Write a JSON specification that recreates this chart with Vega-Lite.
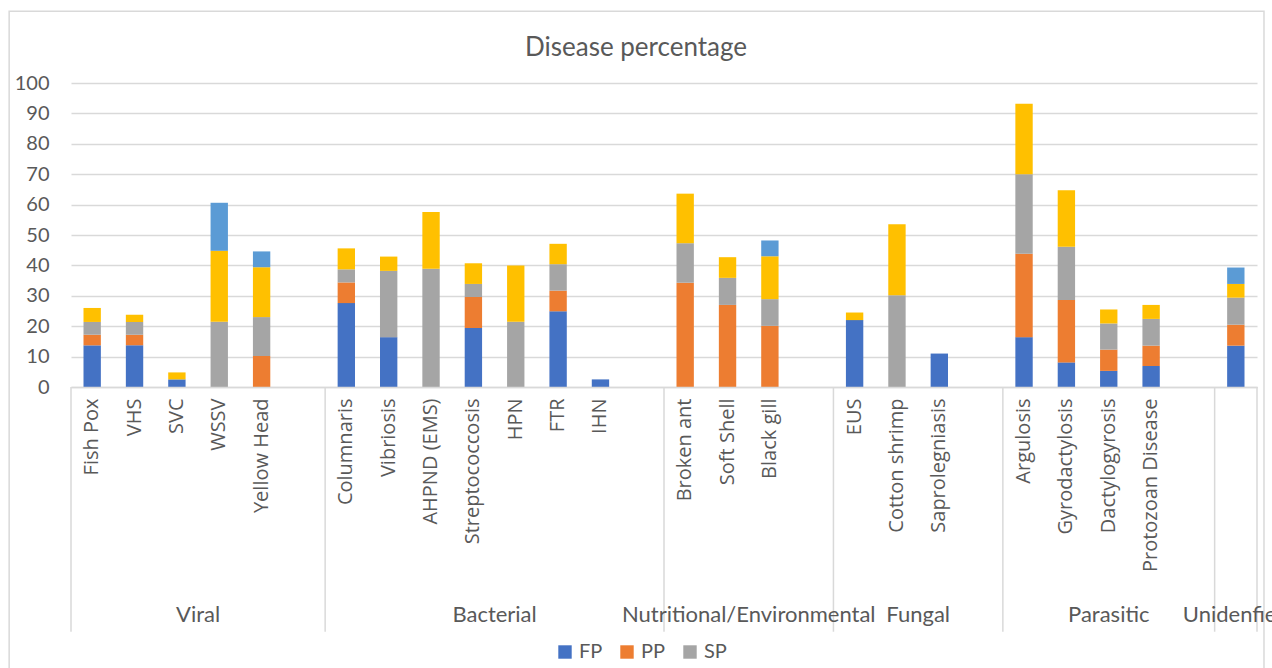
{
  "$schema": "https://vega.github.io/schema/vega-lite/v6.json",
  "autosize": {"type": "none"},
  "padding": {"left": 71, "top": 83, "right": 15, "bottom": 281},
  "width": 1186,
  "height": 304,
  "background": "white",
  "config": {"view": {"stroke": null}},
  "title": {"text": "Disease percentage", "font": "Lato", "fontSize": 26, "fontWeight": "normal", "color": "#595959", "anchor": "middle", "dx": -28, "offset": -50},
  "datasets": {
    "bars": [
      {"disease": "Fish Pox", "series": "FP", "value": 13.7},
      {"disease": "Fish Pox", "series": "PP", "value": 3.5},
      {"disease": "Fish Pox", "series": "SP", "value": 4.2},
      {"disease": "Fish Pox", "series": "Series 4", "value": 4.6},
      {"disease": "VHS", "series": "FP", "value": 13.7},
      {"disease": "VHS", "series": "PP", "value": 3.5},
      {"disease": "VHS", "series": "SP", "value": 4.2},
      {"disease": "VHS", "series": "Series 4", "value": 2.4},
      {"disease": "SVC", "series": "FP", "value": 2.5},
      {"disease": "SVC", "series": "Series 4", "value": 2.3},
      {"disease": "WSSV", "series": "SP", "value": 21.5},
      {"disease": "WSSV", "series": "Series 4", "value": 23.3},
      {"disease": "WSSV", "series": "Series 5", "value": 15.8},
      {"disease": "Yellow Head", "series": "PP", "value": 10.2},
      {"disease": "Yellow Head", "series": "SP", "value": 12.8},
      {"disease": "Yellow Head", "series": "Series 4", "value": 16.4},
      {"disease": "Yellow Head", "series": "Series 5", "value": 5.2},
      {"disease": "Columnaris", "series": "FP", "value": 27.6},
      {"disease": "Columnaris", "series": "PP", "value": 6.8},
      {"disease": "Columnaris", "series": "SP", "value": 4.3},
      {"disease": "Columnaris", "series": "Series 4", "value": 6.9},
      {"disease": "Vibriosis", "series": "FP", "value": 16.4},
      {"disease": "Vibriosis", "series": "SP", "value": 21.8},
      {"disease": "Vibriosis", "series": "Series 4", "value": 4.7},
      {"disease": "AHPND (EMS)", "series": "SP", "value": 38.9},
      {"disease": "AHPND (EMS)", "series": "Series 4", "value": 18.7},
      {"disease": "Streptococcosis", "series": "FP", "value": 19.4},
      {"disease": "Streptococcosis", "series": "PP", "value": 10.2},
      {"disease": "Streptococcosis", "series": "SP", "value": 4.3},
      {"disease": "Streptococcosis", "series": "Series 4", "value": 6.8},
      {"disease": "HPN", "series": "SP", "value": 21.5},
      {"disease": "HPN", "series": "Series 4", "value": 18.5},
      {"disease": "FTR", "series": "FP", "value": 24.9},
      {"disease": "FTR", "series": "PP", "value": 6.8},
      {"disease": "FTR", "series": "SP", "value": 8.7},
      {"disease": "FTR", "series": "Series 4", "value": 6.7},
      {"disease": "IHN", "series": "FP", "value": 2.5},
      {"disease": "Broken ant", "series": "PP", "value": 34.3},
      {"disease": "Broken ant", "series": "SP", "value": 13.0},
      {"disease": "Broken ant", "series": "Series 4", "value": 16.3},
      {"disease": "Soft Shell", "series": "PP", "value": 27.0},
      {"disease": "Soft Shell", "series": "SP", "value": 8.9},
      {"disease": "Soft Shell", "series": "Series 4", "value": 6.8},
      {"disease": "Black gill", "series": "PP", "value": 20.1},
      {"disease": "Black gill", "series": "SP", "value": 8.8},
      {"disease": "Black gill", "series": "Series 4", "value": 14.1},
      {"disease": "Black gill", "series": "Series 5", "value": 5.2},
      {"disease": "EUS", "series": "FP", "value": 22.0},
      {"disease": "EUS", "series": "Series 4", "value": 2.5},
      {"disease": "Cotton shrimp", "series": "SP", "value": 30.2},
      {"disease": "Cotton shrimp", "series": "Series 4", "value": 23.3},
      {"disease": "Saprolegniasis", "series": "FP", "value": 11.0},
      {"disease": "Argulosis", "series": "FP", "value": 16.4},
      {"disease": "Argulosis", "series": "PP", "value": 27.4},
      {"disease": "Argulosis", "series": "SP", "value": 26.2},
      {"disease": "Argulosis", "series": "Series 4", "value": 23.2},
      {"disease": "Gyrodactylosis", "series": "FP", "value": 8.1},
      {"disease": "Gyrodactylosis", "series": "PP", "value": 20.5},
      {"disease": "Gyrodactylosis", "series": "SP", "value": 17.5},
      {"disease": "Gyrodactylosis", "series": "Series 4", "value": 18.6},
      {"disease": "Dactylogyrosis", "series": "FP", "value": 5.3},
      {"disease": "Dactylogyrosis", "series": "PP", "value": 7.0},
      {"disease": "Dactylogyrosis", "series": "SP", "value": 8.6},
      {"disease": "Dactylogyrosis", "series": "Series 4", "value": 4.6},
      {"disease": "Protozoan Disease", "series": "FP", "value": 6.9},
      {"disease": "Protozoan Disease", "series": "PP", "value": 6.7},
      {"disease": "Protozoan Disease", "series": "SP", "value": 8.8},
      {"disease": "Protozoan Disease", "series": "Series 4", "value": 4.6},
      {"disease": "      ", "series": "FP", "value": 13.6},
      {"disease": "      ", "series": "PP", "value": 6.9},
      {"disease": "      ", "series": "SP", "value": 8.9},
      {"disease": "      ", "series": "Series 4", "value": 4.5},
      {"disease": "      ", "series": "Series 5", "value": 5.4}
    ],
    "groups": [
      {"group": "Viral", "anchor": "WSSV", "slots": "even"},
      {"group": "Bacterial", "anchor": "HPN", "slots": "even"},
      {"group": "Nutritional/Environmental", "anchor": "Black gill", "slots": "even"},
      {"group": "Fungal", "anchor": "Saprolegniasis", "slots": "even"},
      {"group": "Parasitic", "anchor": "Dactylogyrosis", "slots": "odd"},
      {"group": "Unidenfied", "anchor": "      ", "slots": "odd"}
    ],
    "bounds": [
      {"edge": "Fish Pox", "side": "start"},
      {"edge": "Columnaris", "side": "start"},
      {"edge": "Broken ant", "side": "start"},
      {"edge": "EUS", "side": "start"},
      {"edge": "Argulosis", "side": "start"},
      {"edge": "      ", "side": "start"},
      {"edge": "      ", "side": "end"}
    ]
  },
  "layer": [
    {
      "data": {"values": [{"frame": "chart border"}]},
      "mark": {"type": "rect", "fill": null, "fillOpacity": 0, "stroke": "#D9D9D9", "strokeWidth": 1.5, "clip": false},
      "encoding": {
        "x": {"datum": "Fish Pox", "bandPosition": -1.46},
        "x2": {"datum": "      ", "bandPosition": 1.165},
        "y": {"datum": 123.6},
        "y2": {"datum": -96}
      }
    },
    {
      "data": {"name": "bars"},
      "mark": {"type": "bar", "width": {"band": 0.41}},
      "encoding": {
        "x": {
          "field": "disease", "type": "nominal", "sort": null,
          "scale": {"domain": ["Fish Pox", "VHS", "SVC", "WSSV", "Yellow Head", " ", "Columnaris", "Vibriosis", "AHPND (EMS)", "Streptococcosis", "HPN", "FTR", "IHN", "  ", "Broken ant", "Soft Shell", "Black gill", "   ", "EUS", "Cotton shrimp", "Saprolegniasis", "    ", "Argulosis", "Gyrodactylosis", "Dactylogyrosis", "Protozoan Disease", "     ", "      "], "paddingInner": 0, "paddingOuter": 0},
          "axis": {"title": null, "labelAngle": -90, "labelFont": "Open Sans", "labelFontSize": 20, "labelColor": "#595959", "ticks": false, "domainColor": "#D9D9D9", "domainWidth": 1.5, "labelPadding": 11, "labelLimit": 300, "labelOverlap": false, "grid": false}
        },
        "y": {
          "field": "value", "type": "quantitative", "aggregate": "sum", "stack": "zero",
          "scale": {"domain": [0, 100], "nice": false},
          "axis": {"title": null, "values": [0, 10, 20, 30, 40, 50, 60, 70, 80, 90, 100], "tickCount": 11, "labelOverlap": false, "grid": true, "gridColor": "#D9D9D9", "gridWidth": 1.5, "domain": false, "ticks": false, "labelFont": "Lato", "labelFontSize": 20, "labelColor": "#595959", "labelPadding": 22}
        },
        "color": {
          "field": "series", "type": "nominal",
          "scale": {"domain": ["FP", "PP", "SP", "Series 4", "Series 5"], "range": ["#4472C4", "#ED7D31", "#A5A5A5", "#FFC000", "#5B9BD5"]},
          "legend": {"values": ["FP", "PP", "SP"], "title": null, "orient": "none", "direction": "horizontal", "legendX": 484, "legendY": 559, "symbolType": "square", "symbolSize": 180, "symbolStrokeWidth": 0, "labelFont": "Lato", "labelFontSize": 20, "labelColor": "#595959", "columnPadding": 14, "symbolOffset": 0}
        },
        "order": {"field": "series", "sort": "ascending"}
      }
    },
    {
      "data": {"name": "bounds"},
      "transform": [{"filter": "datum.side === 'start'"}],
      "mark": {"type": "rule", "color": "#D9D9D9", "strokeWidth": 1.5, "clip": false},
      "encoding": {
        "x": {"field": "edge", "type": "nominal", "bandPosition": 0, "sort": null},
        "y": {"datum": 0},
        "y2": {"datum": -80.5}
      }
    },
    {
      "data": {"name": "bounds"},
      "transform": [{"filter": "datum.side === 'end'"}],
      "mark": {"type": "rule", "color": "#D9D9D9", "strokeWidth": 1.5, "clip": false},
      "encoding": {
        "x": {"field": "edge", "type": "nominal", "bandPosition": 1, "sort": null},
        "y": {"datum": 0},
        "y2": {"datum": -80.5}
      }
    },
    {
      "data": {"name": "groups"},
      "transform": [{"filter": "datum.slots === 'even'"}],
      "mark": {"type": "text", "font": "Lato", "fontSize": 22, "color": "#595959", "align": "center", "baseline": "middle", "clip": false},
      "encoding": {
        "x": {"field": "anchor", "type": "nominal", "bandPosition": 0, "sort": null},
        "y": {"datum": -75},
        "text": {"field": "group"}
      }
    },
    {
      "data": {"name": "groups"},
      "transform": [{"filter": "datum.slots === 'odd'"}],
      "mark": {"type": "text", "font": "Lato", "fontSize": 22, "color": "#595959", "align": "center", "baseline": "middle", "clip": false},
      "encoding": {
        "x": {"field": "anchor", "type": "nominal", "bandPosition": 0.5, "sort": null},
        "y": {"datum": -75},
        "text": {"field": "group"}
      }
    }
  ]
}
